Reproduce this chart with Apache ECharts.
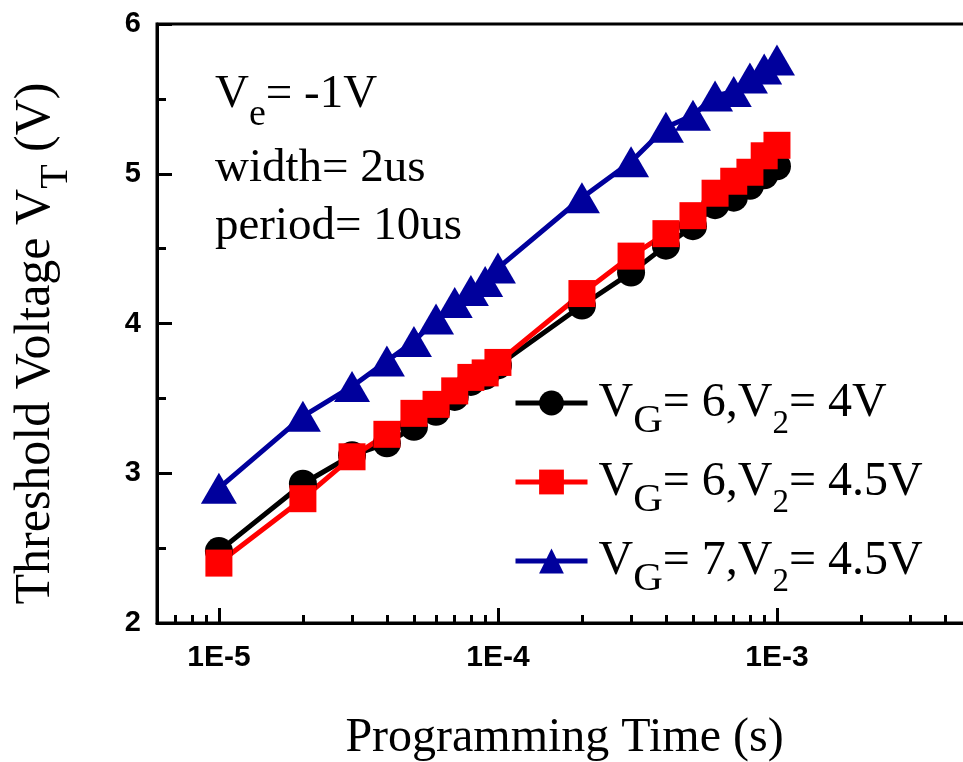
<!DOCTYPE html>
<html>
<head>
<meta charset="utf-8">
<script src="https://cdn.jsdelivr.net/npm/echarts@6/dist/echarts.min.js"></script>
<style>
  html, body { margin: 0; padding: 0; background: #fff; }
  #chart { width: 963px; height: 762px; }
</style>
</head>
<body>
<div id="chart"></div>
<script>
// Programming time (s) for every pulse-train measurement
const programTime = [1e-5, 2e-5, 3e-5, 4e-5, 5e-5, 6e-5, 7e-5, 8e-5, 9e-5,
                     1e-4, 2e-4, 3e-4, 4e-4, 5e-4, 6e-4, 7e-4, 8e-4, 9e-4, 1e-3];

// Threshold voltage V_T (V) for each bias condition
const vtVg6V2_4   = [2.48, 2.93, 3.12, 3.20, 3.31, 3.41, 3.51, 3.61, 3.65, 3.72,
                     4.12, 4.34, 4.52, 4.65, 4.79, 4.84, 4.92, 4.99, 5.05];
const vtVg6V2_45  = [2.40, 2.83, 3.11, 3.26, 3.40, 3.46, 3.55, 3.64, 3.67, 3.74,
                     4.20, 4.45, 4.60, 4.72, 4.87, 4.95, 5.01, 5.12, 5.19];
const vtVg7V2_45  = [2.90, 3.38, 3.58, 3.75, 3.88, 4.03, 4.14, 4.22, 4.28, 4.37,
                     4.84, 5.08, 5.31, 5.39, 5.52, 5.55, 5.64, 5.70, 5.76];

// Series names and their rich-text pieces: [V, sub, text, sub, text]
const seriesNames = ['VG= 6,V2= 4V', 'VG= 6,V2= 4.5V', 'VG= 7,V2= 4.5V'];
const legendParts = [
  ['V', 'G', '= 6,V', '2', '= 4V'],
  ['V', 'G', '= 6,V', '2', '= 4.5V'],
  ['V', 'G', '= 7,V', '2', '= 4.5V']
];

// Axis ticks
const xMajorTicks = [1e-5, 1e-4, 1e-3];
const xMajorLabels = ['1E-5', '1E-4', '1E-3'];
const xMinorTicks = [7e-6, 8e-6, 9e-6,
                     2e-5, 3e-5, 4e-5, 5e-5, 6e-5, 7e-5, 8e-5, 9e-5,
                     2e-4, 3e-4, 4e-4, 5e-4, 6e-4, 7e-4, 8e-4, 9e-4,
                     2e-3, 3e-3, 4e-3];

// Measurement conditions printed inside the plot
const noteLines = [
  ['V', 'e', '= -1V'],
  ['width= 2us'],
  ['period= 10us']
];

const serif = '"Liberation Serif", "Times New Roman", serif';
const sans = '"Liberation Sans", Arial, sans-serif';
const colors = ['#000000', '#ff0000', '#00009c'];

const toPairs = ys => programTime.map((t, i) => [t, ys[i]]);

const richStyles = {
  m:  { fontFamily: serif, fontSize: 48, color: '#000', verticalAlign: 'middle' },
  m0: { fontFamily: serif, fontSize: 48, color: '#000', verticalAlign: 'middle', padding: [0, 0, 0, 6] },
  g:  { fontFamily: serif, fontSize: 41, color: '#000', verticalAlign: 'middle', padding: [37, 0, 0, 0] },
  d:  { fontFamily: serif, fontSize: 33, color: '#000', verticalAlign: 'middle', padding: [42, 0, 0, 0] }
};

function legendRich(name) {
  const p = legendParts[seriesNames.indexOf(name)];
  return '{m0|' + p[0] + '}{g|' + p[1] + '}{m|' + p[2] + '}{d|' + p[3] + '}{m|' + p[4] + '}';
}

const noteTop = [71, 145, 203];
const noteGraphics = noteLines.map((parts, i) => ({
  type: 'text',
  left: 215,
  top: noteTop[i],
  style: {
    text: parts.length > 1
      ? '{m|' + parts[0] + '}{s|' + parts[1] + '}{m|' + parts[2] + '}'
      : '{m|' + parts[0] + '}',
    rich: {
      m: { fontFamily: serif, fontSize: 47, fill: '#000' },
      s: { fontFamily: serif, fontSize: 38, fill: '#000', padding: [41, 0, 0, 0] }
    }
  }
}));

const chart = echarts.init(document.getElementById('chart'), null, { renderer: 'canvas' });

chart.setOption({
  animation: false,
  backgroundColor: '#fff',
  grid: {
    left: 157, top: 24, right: -9, bottom: 139,
    outerBoundsMode: 'none',
    containLabel: false,
    show: true, borderColor: '#000', borderWidth: 3, backgroundColor: 'transparent'
  },
  xAxis: [
    {
      type: 'log', logBase: 10, min: 6e-6, max: 5e-3, position: 'bottom',
      name: 'Programming Time (s)', nameLocation: 'middle', nameGap: 91,
      nameTextStyle: { fontFamily: serif, fontSize: 48, color: '#000' },
      axisLine: { show: true, lineStyle: { color: '#000', width: 3 } },
      axisTick: { show: true, inside: true, length: 15, customValues: xMajorTicks,
                  lineStyle: { color: '#000', width: 3 } },
      axisLabel: {
        show: true, customValues: xMajorTicks, margin: 20,
        fontFamily: sans, fontWeight: 'bold', fontSize: 30, color: '#000',
        formatter: v => {
          const k = xMajorTicks.findIndex(t => Math.abs(Math.log10(t) - Math.log10(v)) < 1e-6);
          return k >= 0 ? xMajorLabels[k] : '';
        }
      },
      splitLine: { show: false },
      minorTick: { show: false }
    },
    {
      type: 'log', logBase: 10, min: 6e-6, max: 5e-3, position: 'bottom',
      axisLine: { show: false },
      axisTick: { show: true, inside: true, length: 8, customValues: xMinorTicks,
                  lineStyle: { color: '#000', width: 3 } },
      axisLabel: { show: false },
      splitLine: { show: false }
    }
  ],
  yAxis: {
    type: 'value', min: 2, max: 6, interval: 1,
    name: '{m|Threshold Voltage V}{s|T}{m| (V)}',
    nameLocation: 'middle', nameGap: 81, nameRotate: 90,
    nameTextStyle: {
      padding: [0, 40, 0, 0],
      rich: {
        m: { fontFamily: serif, fontSize: 50, color: '#000', verticalAlign: 'middle' },
        s: { fontFamily: serif, fontSize: 40, color: '#000', verticalAlign: 'middle', padding: [40, 0, 0, 0] }
      }
    },
    axisLine: { show: true, lineStyle: { color: '#000', width: 3 } },
    axisTick: { show: true, inside: true, length: 15, lineStyle: { color: '#000', width: 3 } },
    minorTick: { show: true, splitNumber: 2, length: 9, lineStyle: { color: '#000', width: 3 } },
    axisLabel: { margin: 16, fontFamily: sans, fontWeight: 'bold', fontSize: 29, color: '#000' },
    splitLine: { show: false },
    minorSplitLine: { show: false }
  },
  legend: {
    data: seriesNames,
    orient: 'vertical',
    left: 513, top: 379,
    padding: 0,
    itemGap: 16,
    itemWidth: 72,
    itemHeight: 31,
    lineStyle: { width: 5 },
    formatter: legendRich,
    textStyle: { rich: richStyles },
    selectedMode: false
  },
  graphic: noteGraphics,
  series: [
    {
      name: seriesNames[0], type: 'line', data: toPairs(vtVg6V2_4),
      symbol: 'circle', symbolSize: 28,
      lineStyle: { color: colors[0], width: 5 },
      itemStyle: { color: colors[0] }
    },
    {
      name: seriesNames[1], type: 'line', data: toPairs(vtVg6V2_45),
      symbol: 'rect', symbolSize: 27,
      lineStyle: { color: colors[1], width: 5 },
      itemStyle: { color: colors[1] }
    },
    {
      name: seriesNames[2], type: 'line', data: toPairs(vtVg7V2_45),
      symbol: 'triangle', symbolSize: [36, 31],
      lineStyle: { color: colors[2], width: 5 },
      itemStyle: { color: colors[2] }
    }
  ]
});
</script>
</body>
</html>
